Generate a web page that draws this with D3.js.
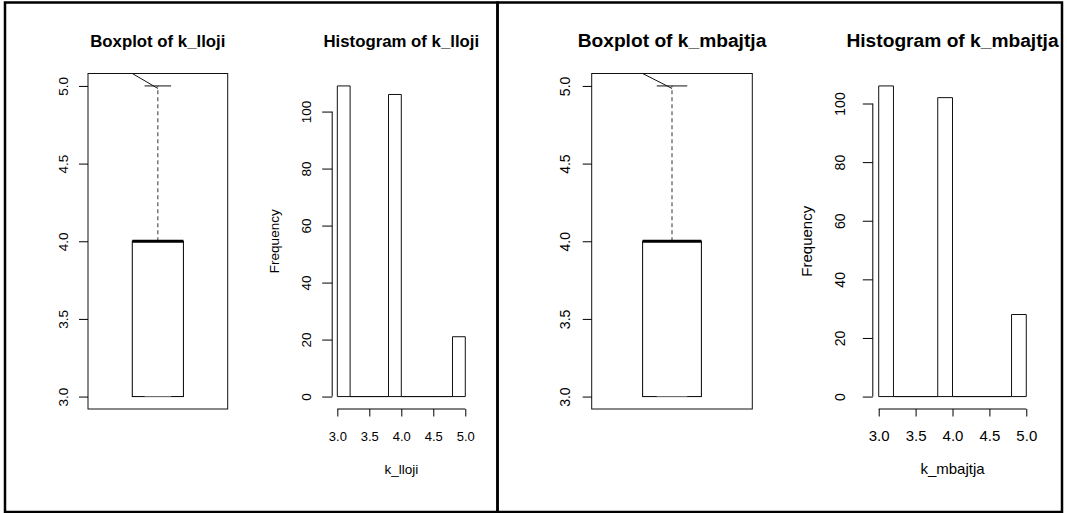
<!DOCTYPE html>
<html>
<head>
<meta charset="utf-8">
<title>boxplot and histogram</title>
<script src="https://cdn.jsdelivr.net/npm/d3@7"></script>
<style>
  body { margin: 0; background: #fff; }
  text { font-family: "Liberation Sans", Arial, Helvetica, sans-serif; fill: #000; }
</style>
</head>
<body>
<div id="chart"></div>
<script>
  const width = 1067
  const height = 513

  const varNames = ["k_lloji", "k_mbajtja"]
  // min, lower hinge, median, upper hinge, max
  const boxLloji = [3, 3, 4, 4, 5]
  const boxMbajtja = [3, 3, 4, 4, 5]
  const breaks = [3.0, 3.2, 3.4, 3.6, 3.8, 4.0, 4.2, 4.4, 4.6, 4.8, 5.0]
  const countsLloji = [109, 0, 0, 0, 106, 0, 0, 0, 0, 21]
  const countsMbajtja = [106, 0, 0, 0, 102, 0, 0, 0, 0, 28]
  const boxTicks = [3.0, 3.5, 4.0, 4.5, 5.0]
  const histXTicks = [3.0, 3.5, 4.0, 4.5, 5.0]
  const freqTicks = [0, 20, 40, 60, 80, 100]

  // layout of the two panels (the right one was drawn a bit wider)
  const panels = [
    { frame: [5, 2.5, 497.5, 512], box: [88, 227.7], hist: [332.2, 470.4],
      title: 16.8, tick: 13.5, xTick: 13, lab: 13.5, boxLab: 24.7, histLab: 26, freqX: 274.7 },
    { frame: [497.5, 2.5, 1062, 512], box: [591.7, 752.3], hist: [872.8, 1032.2],
      title: 19.2, tick: 14, xTick: 15, lab: 15, boxLab: 26.7, histLab: 32.5, freqX: 806.3 }
  ]
  const plotTop = 73.5
  const plotBottom = 409
  const boxHalf = 0.183
  const capHalf = 0.095

  const svg = d3.select("#chart")
    .append("svg")
    .attr("width", width)
    .attr("height", height)

  const fmt = d3.format(".1f")

  function rotLabels(axisG, off) {
    axisG.selectAll(".tick text")
      .attr("x", 0)
      .attr("y", -off)
      .attr("dy", "0.35em")
      .attr("text-anchor", "middle")
      .attr("transform", "rotate(-90)")
  }

  function drawBox(p, stats, name) {
    const g = svg.append("g")
    const x = d3.scaleLinear().domain([0.5, 1.5]).range(p.box)
    const lo = stats[0], hi = stats[4]
    const pad = (hi - lo) * 0.04
    const y = d3.scaleLinear().domain([lo - pad, hi + pad]).range([plotBottom, plotTop])

    g.append("rect")
      .attr("x", x(0.5)).attr("y", y(hi + pad))
      .attr("width", x(1.5) - x(0.5)).attr("height", y(lo - pad) - y(hi + pad))
      .attr("fill", "none").attr("stroke", "#111").attr("stroke-width", 1)

    const ax = g.append("g")
      .attr("transform", `translate(${x(0.5)},0)`)
      .call(d3.axisLeft(y).tickValues(boxTicks).tickSize(9).tickFormat(fmt))
      .attr("font-size", p.tick)
    ax.select(".domain").remove()
    rotLabels(ax, p.boxLab)

    // box
    g.append("rect")
      .attr("x", x(1 - boxHalf)).attr("y", y(stats[3]))
      .attr("width", x(1 + boxHalf) - x(1 - boxHalf))
      .attr("height", y(stats[1]) - y(stats[3]))
      .attr("fill", "none").attr("stroke", "#000").attr("stroke-width", 1)
    // whiskers
    g.append("line")
      .attr("x1", x(1)).attr("x2", x(1)).attr("y1", y(stats[3])).attr("y2", y(stats[4]))
      .attr("stroke", "#333").attr("stroke-dasharray", "4,3")
    g.selectAll(".cap").data([stats[0], stats[4]]).enter().append("line")
      .attr("x1", x(1 - capHalf)).attr("x2", x(1 + capHalf))
      .attr("y1", d => y(d)).attr("y2", d => y(d))
      .attr("stroke", (d, i) => i === 0 ? "#777" : "#111")
    // median
    g.append("line")
      .attr("x1", x(1 - boxHalf)).attr("x2", x(1 + boxHalf))
      .attr("y1", y(stats[2])).attr("y2", y(stats[2]))
      .attr("stroke", "#000").attr("stroke-width", 3)
    // stray diagonal stroke near the top
    g.append("line")
      .attr("x1", x(1 - boxHalf)).attr("y1", y(hi + pad))
      .attr("x2", x(1)).attr("y2", y(hi) + 2.5)
      .attr("stroke", "#111")

    g.append("text")
      .attr("x", (p.box[0] + p.box[1]) / 2).attr("y", 46.7)
      .attr("text-anchor", "middle").attr("font-weight", "bold")
      .attr("font-size", p.title)
      .text("Boxplot of " + name)
  }

  function drawHist(p, counts, name) {
    const g = svg.append("g")
    const pad = (breaks[breaks.length - 1] - breaks[0]) * 0.04
    const x = d3.scaleLinear()
      .domain([breaks[0] - pad, breaks[breaks.length - 1] + pad]).range(p.hist)
    const maxC = d3.max(counts)
    const y = d3.scaleLinear().domain([-0.04 * maxC, 1.04 * maxC]).range([plotBottom, plotTop])

    g.selectAll(".bar").data(counts).enter().append("path")
      .attr("d", (c, i) => {
        const x0 = x(breaks[i]), x1 = x(breaks[i + 1])
        return `M${x0},${y(0)}V${y(c)}H${x1}V${y(0)}Z`
      })
      .attr("fill", "none").attr("stroke", "#111").attr("stroke-width", 1)

    const xa = g.append("g")
      .attr("transform", `translate(0,${plotBottom})`)
      .call(d3.axisBottom(x).tickValues(histXTicks).tickSize(7.5).tickFormat(fmt))
      .attr("font-size", p.xTick)
    xa.select(".domain").remove()
    xa.append("line")
      .attr("x1", x(histXTicks[0])).attr("x2", x(histXTicks[histXTicks.length - 1]))
      .attr("stroke", "#000")
    xa.selectAll(".tick text").attr("y", 27).attr("dy", "0.35em")

    const ya = g.append("g")
      .attr("transform", `translate(${p.hist[0]},0)`)
      .call(d3.axisLeft(y).tickValues(freqTicks).tickSize(10))
      .attr("font-size", p.tick)
    ya.select(".domain").remove()
    ya.append("line")
      .attr("y1", y(freqTicks[0])).attr("y2", y(freqTicks[freqTicks.length - 1]))
      .attr("stroke", "#000")
    rotLabels(ya, p.histLab)

    g.append("text")
      .attr("transform", `translate(${p.freqX},${(plotTop + plotBottom) / 2}) rotate(-90)`)
      .attr("dy", "0.35em").attr("text-anchor", "middle")
      .attr("font-size", p.lab)
      .text("Frequency")

    g.append("text")
      .attr("x", (p.hist[0] + p.hist[1]) / 2).attr("y", 474)
      .attr("text-anchor", "middle").attr("font-size", p.lab)
      .text(name)

    g.append("text")
      .attr("x", (p.hist[0] + p.hist[1]) / 2).attr("y", 46.7)
      .attr("text-anchor", "middle").attr("font-weight", "bold")
      .attr("font-size", p.title)
      .text("Histogram of " + name)
  }

  // panel frames
  svg.selectAll(".frame").data(panels).enter().append("rect")
    .attr("x", p => p.frame[0]).attr("y", p => p.frame[1])
    .attr("width", p => p.frame[2] - p.frame[0])
    .attr("height", p => p.frame[3] - p.frame[1])
    .attr("fill", "none").attr("stroke", "#000").attr("stroke-width", 2.5)

  drawBox(panels[0], boxLloji, varNames[0])
  drawHist(panels[0], countsLloji, varNames[0])
  drawBox(panels[1], boxMbajtja, varNames[1])
  drawHist(panels[1], countsMbajtja, varNames[1])
</script>
</body>
</html>
